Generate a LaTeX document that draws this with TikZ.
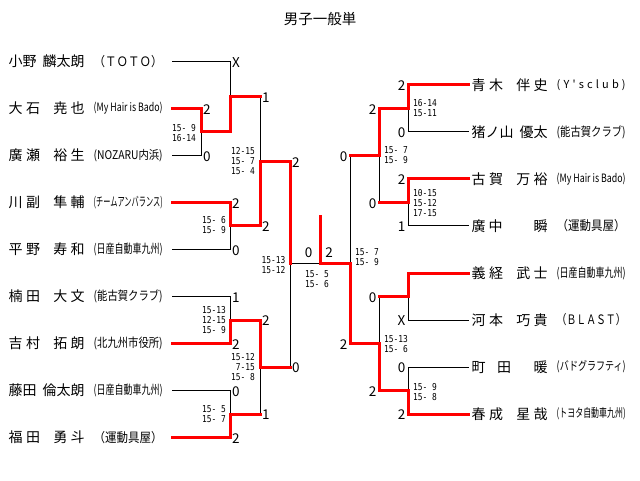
\documentclass[tikz,border=0pt]{standalone}
\usepackage{fontspec}
\usepackage{graphicx}
\newfontfamily\jp{Noto Sans CJK JP}
\newfontfamily\scorefont[FakeStretch=0.83]{DejaVu Sans Mono}
\newcommand\pname[1]{\makebox[76pt][s]{#1}}
\newcommand\clubtxt[2]{\resizebox{69pt}{\height}{\jp\fontsize{#1}{#1}\selectfont #2}}
\tikzset{
  bk/.style={line width=1pt, black, line cap=rect},
  rd/.style={line width=3pt, red, line cap=rect},
  res/.style={inner sep=0pt, font=\jp\fontsize{13.5}{13.5}\selectfont},
  resL/.style={res, anchor=west, xshift=2pt, yshift=-1pt},
  resR/.style={res, anchor=east, xshift=-2.5pt, yshift=-1pt},
  sco/.style={inner sep=0pt, anchor=west, align=left, font=\scorefont\fontsize{9.5}{10}\selectfont},
  nm/.style={inner sep=0pt, anchor=west, font=\jp\fontsize{14}{14}\selectfont},
  cl/.style={inner sep=0pt, anchor=west},
}
\begin{document}
\begin{tikzpicture}[x=1pt,y=-1pt]
\useasboundingbox (0,0) rectangle (640,481);
\node[inner sep=0pt, font=\jp\fontsize{14.5}{14.5}\selectfont] (title) at (320,19) {男子一般単};

% player line starts
\coordinate (pL1) at (172,61.5);
\coordinate (pL2) at (172,108.5);
\coordinate (pL3) at (172,155.5);
\coordinate (pL4) at (172,202.5);
\coordinate (pL5) at (172,249.5);
\coordinate (pL6) at (172,296.5);
\coordinate (pL7) at (172,343.5);
\coordinate (pL8) at (172,390.5);
\coordinate (pL9) at (172,437.5);
\coordinate (pR1) at (468,85);
\coordinate (pR2) at (468,132);
\coordinate (pR3) at (468,179);
\coordinate (pR4) at (468,226);
\coordinate (pR5) at (468,273);
\coordinate (pR6) at (468,320);
\coordinate (pR7) at (468,367);
\coordinate (pR8) at (468,414);
% match points
\coordinate (mA1) at (201,132);
\coordinate (mA2) at (230,96.75);
\coordinate (mB) at (230,226);
\coordinate (mQ1) at (260,161.5);
\coordinate (mC) at (230,320);
\coordinate (mD) at (230,414);
\coordinate (mQ2) at (260,367);
\coordinate (mS1) at (290,264);
\coordinate (champ) at (320,217);
\coordinate (nE) at (408,108.5);
\coordinate (nF) at (408,202.5);
\coordinate (nG) at (408,296.5);
\coordinate (nH) at (408,390.5);
\coordinate (nQ1) at (379,155.5);
\coordinate (nQ2) at (379,343.5);
\coordinate (nS) at (350,264);

% black bracket
\draw[bk] (pL1) -| (mA2) -| (mQ1) -| (mS1) -| (champ);
\draw[bk] (pL2) -| (mA1) -| (mA2);
\draw[bk] (pL3) -| (mA1);
\draw[bk] (pL4) -| (mB) -| (mQ1);
\draw[bk] (pL5) -| (mB);
\draw[bk] (pL6) -| (mC) -| (mQ2) -| (mS1);
\draw[bk] (pL7) -| (mC);
\draw[bk] (pL8) -| (mD) -| (mQ2);
\draw[bk] (pL9) -| (mD);
\draw[bk] (pR1) -| (nE) -| (nQ1) -| (nS) -| (champ);
\draw[bk] (pR2) -| (nE);
\draw[bk] (pR3) -| (nF) -| (nQ1);
\draw[bk] (pR4) -| (nF);
\draw[bk] (pR5) -| (nG) -| (nQ2) -| (nS);
\draw[bk] (pR6) -| (nG);
\draw[bk] (pR7) -| (nH) -| (nQ2);
\draw[bk] (pR8) -| (nH);

% red winner paths
\draw[rd] (pL2) -| (mA1) -| (mA2) -- (mA2 -| mQ1);
\draw[rd] (pL4) -| (mB) -| (mQ1) -| (mS1);
\draw[rd] (pL7) -| (mC) -| (mQ2) -- (mQ2 -| mS1);
\draw[rd] (pL9) -| (mD) -- (mD -| mQ2);
\draw[rd] (pR1) -| (nE) -| (nQ1) -- (nQ1 -| nS);
\draw[rd] (pR3) -| (nF) -- (nF -| nQ1);
\draw[rd] (pR5) -| (nG) -- (nG -| nQ2);
\draw[rd] (pR8) -| (nH) -| (nQ2) -| (nS) -| (champ);

% left names and clubs
\node[nm] (nL1) at (8.5,61.5) {\pname{小野\hfill 麟太朗}};
\node[nm] (nL2) at (8.5,108.5) {\pname{大\hfill 石\hfill\hfill\hfill\hfill 尭\hfill 也}};
\node[nm] (nL3) at (8.5,155.5) {\pname{廣\hfill 瀬\hfill\hfill\hfill\hfill 裕\hfill 生}};
\node[nm] (nL4) at (8.5,202.5) {\pname{川\hfill 副\hfill\hfill\hfill\hfill 隼\hfill 輔}};
\node[nm] (nL5) at (8.5,249.5) {\pname{平\hfill 野\hfill\hfill\hfill\hfill 寿\hfill 和}};
\node[nm] (nL6) at (8.5,296.5) {\pname{楠\hfill 田\hfill\hfill\hfill\hfill 大\hfill 文}};
\node[nm] (nL7) at (8.5,343.5) {\pname{吉\hfill 村\hfill\hfill\hfill\hfill 拓\hfill 朗}};
\node[nm] (nL8) at (8.5,390.5) {\pname{藤田\hfill 倫太朗}};
\node[nm] (nL9) at (8.5,437.5) {\pname{福\hfill 田\hfill\hfill\hfill\hfill 勇\hfill 斗}};
\node[cl] (cL1) at (93.5,61.5) {\clubtxt{13}{（ＴＯＴＯ）}};
\node[cl] (cL2) at (93.5,108.5) {\clubtxt{11.5}{(My Hair is Bado)}};
\node[cl] (cL3) at (93.5,155.5) {\clubtxt{12}{(NOZARU内浜)}};
\node[cl] (cL4) at (93.5,202.5) {\clubtxt{12.5}{(チームアンバランス)}};
\node[cl] (cL5) at (93.5,249.5) {\clubtxt{12.5}{(日産自動車九州)}};
\node[cl] (cL6) at (93.5,296.5) {\clubtxt{12.5}{(能古賀クラブ)}};
\node[cl] (cL7) at (93.5,343.5) {\clubtxt{12.5}{(北九州市役所)}};
\node[cl] (cL8) at (93.5,390.5) {\clubtxt{12.5}{(日産自動車九州)}};
\node[cl] (cL9) at (93.5,437.5) {\clubtxt{13}{（運動具屋）}};

% right names and clubs
\node[nm] (nR1) at (471.5,85) {\pname{青\hfill 木\hfill\hfill\hfill\hfill 伴\hfill 史}};
\node[nm] (nR2) at (471.5,132) {\pname{猪ノ山\hfill 優太}};
\node[nm] (nR3) at (471.5,179) {\pname{古\hfill 賀\hfill\hfill\hfill\hfill 万\hfill 裕}};
\node[nm] (nR4) at (471.5,226) {\pname{廣\hspace{3pt}中\hfill 瞬}};
\node[nm] (nR5) at (471.5,273) {\pname{義\hfill 経\hfill\hfill\hfill\hfill 武\hfill 士}};
\node[nm] (nR6) at (471.5,320) {\pname{河\hfill 本\hfill\hfill\hfill\hfill 巧\hfill 貴}};
\node[nm] (nR7) at (471.5,367) {\pname{町\hfill 田\hfill\hfill 暖}};
\node[nm] (nR8) at (471.5,414) {\pname{春\hfill 成\hfill\hfill\hfill\hfill 星\hfill 哉}};
\node[cl] (cR1) at (556.5,85) {\makebox[69pt][s]{\jp\fontsize{11}{11}\selectfont (\hfill Y\hfill\textquotesingle\hfill s\hfill c\hfill l\hfill u\hfill b\hfill )}};
\node[cl] (cR2) at (556.5,132) {\clubtxt{12.5}{(能古賀クラブ)}};
\node[cl] (cR3) at (556.5,179) {\clubtxt{11.5}{(My Hair is Bado)}};
\node[cl] (cR4) at (556.5,226) {\clubtxt{13}{（運動具屋）}};
\node[cl] (cR5) at (556.5,273) {\clubtxt{12.5}{(日産自動車九州)}};
\node[cl] (cR6) at (556.5,320) {\clubtxt{13}{（ＢＬＡＳＴ）}};
\node[cl] (cR7) at (556.5,367) {\clubtxt{12}{(バドグラフティ)}};
\node[cl] (cR8) at (556.5,414) {\clubtxt{12}{(トヨタ自動車九州)}};

% results left
\node[resL] (rL1) at (mA2 |- pL1) {X};
\node[resL] (rL2) at (mA1 |- pL2) {2};
\node[resL] (rL3) at (mA1 |- pL3) {0};
\node[resL] (rL4) at (mB |- pL4) {2};
\node[resL] (rL5) at (mB |- pL5) {0};
\node[resL] (rL6) at (mC |- pL6) {1};
\node[resL] (rL7) at (mC |- pL7) {2};
\node[resL] (rL8) at (mD |- pL8) {0};
\node[resL] (rL9) at (mD |- pL9) {2};
\node[resL] (rA2) at (mA2 -| mQ1) {1};
\node[resL] (rB) at (mB -| mQ1) {2};
\node[resL] (rC) at (mC -| mQ2) {2};
\node[resL] (rD) at (mD -| mQ2) {1};
\node[resL] (rQ1) at (mQ1 -| mS1) {2};
\node[resL] (rQ2) at (mQ2 -| mS1) {0};
\node[res] (fL) at (308.5,253) {0};
\node[res] (fR) at (329,253) {2};
% results right
\node[resR] (rR1) at (nE |- pR1) {2};
\node[resR] (rR2) at (nE |- pR2) {0};
\node[resR] (rR3) at (nF |- pR3) {2};
\node[resR] (rR4) at (nF |- pR4) {1};
\node[resR] (rR6) at (nG |- pR6) {X};
\node[resR] (rR7) at (nH |- pR7) {0};
\node[resR] (rR8) at (nH |- pR8) {2};
\node[resR] (rE) at (nE -| nQ1) {2};
\node[resR] (rF) at (nF -| nQ1) {0};
\node[resR] (rG) at (nG -| nQ2) {0};
\node[resR] (rH) at (nH -| nQ2) {2};
\node[resR] (rQ1R) at (nQ1 -| nS) {0};
\node[resR] (rQ2R) at (nQ2 -| nS) {2};

% game scores
\node[sco] (sA1) at (172,133) {15-~9\\16-14};
\node[sco] (sB) at (202,225.5) {15-~6\\15-~9};
\node[sco] (sQ1) at (231,161) {12-15\\15-~7\\15-~4};
\node[sco] (sC) at (202,320) {15-13\\12-15\\15-~9};
\node[sco] (sD) at (202,414) {15-~5\\15-~7};
\node[sco] (sQ2) at (231,367) {15-12\\\hphantom{1}7-15\\15-~8};
\node[sco] (sS1) at (261.5,265) {15-13\\15-12};
\node[sco] (sFin) at (305,279) {15-~5\\15-~6};
\node[sco] (sE) at (413,108) {16-14\\15-11};
\node[sco] (sF) at (413,203) {10-15\\15-12\\17-15};
\node[sco] (sQ1R) at (384,155) {15-~7\\15-~9};
\node[sco] (sH) at (413,392) {15-~9\\15-~8};
\node[sco] (sQ2R) at (384,344) {15-13\\15-~6};
\node[sco] (sSR) at (355,257) {15-~7\\15-~9};
\end{tikzpicture}
\end{document}
